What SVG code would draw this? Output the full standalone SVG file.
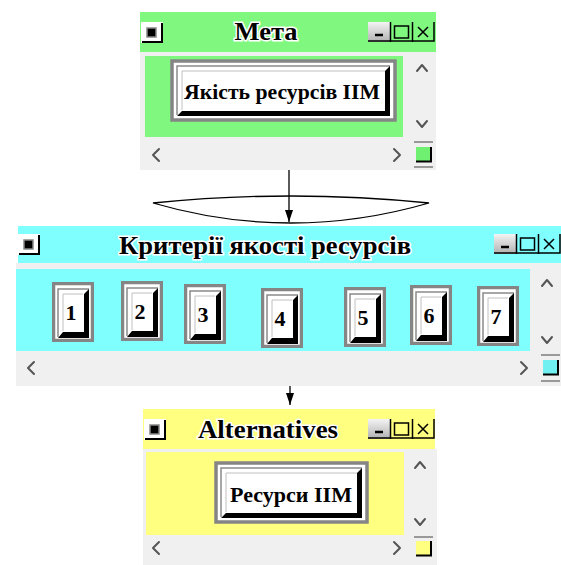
<svg xmlns="http://www.w3.org/2000/svg" width="561" height="565" viewBox="0 0 561 565">
  <style>
    .win { fill: #f0f0f0; }
    .title { font-family: "Liberation Serif", "Times New Roman", serif; font-weight: bold; font-size: 26px; fill: #000; stroke: #fff; stroke-width: 3; paint-order: stroke; text-anchor: middle; }
    .btxt { font-family: "Liberation Serif", "Times New Roman", serif; font-weight: bold; font-size: 22px; fill: #000; text-anchor: middle; }
    .chev { fill: none; stroke: #555; stroke-width: 2; stroke-linecap: round; stroke-linejoin: round; }
    .frame { fill: #fff; stroke: #858585; stroke-width: 3.5; }
    .hi { fill: none; stroke: #8a8a8a; stroke-width: 1.5; }
    .bev { fill: #000; }
    .conn { fill: none; stroke: #000; stroke-width: 1.3; }
    .ctl { stroke: #000; stroke-width: 1.5; fill: none; }
  </style>
  <defs>
    <linearGradient id="minbtn" x1="0" y1="0" x2="0" y2="1">
      <stop offset="0" stop-color="#f4f4f4"/>
      <stop offset="1" stop-color="#b0b0b0"/>
    </linearGradient>
    <marker id="ah" markerWidth="12" markerHeight="8" refX="12" refY="4" orient="auto" markerUnits="userSpaceOnUse" viewBox="0 0 12 8">
      <path d="M0,0 L12,4 L0,8 Z" fill="#000"/>
    </marker>
    <!-- raised numbered criterion button -->
    <symbol id="nb" viewBox="0 0 42 60" width="42" height="60">
      <rect x="1.5" y="1.5" width="39" height="57" class="frame"/>
      <polyline points="6,55 6,7 37,7" class="hi"/>
      <polyline points="11,49 11,12 31,12" fill="none" stroke="#c0c0c0" stroke-width="1"/>
      <polygon points="6,56 37,56 37,7 32,12 32,50 11,50" class="bev"/>
    </symbol>
    <!-- window system icon -->
    <symbol id="ico" viewBox="0 0 22 21" width="22" height="21">
      <rect x="0" y="0" width="22" height="21" fill="#fff"/>
      <rect x="6" y="6" width="9" height="9" fill="#000" stroke="#888" stroke-width="1.5"/>
      <polyline points="1,20 21,20 21,1" fill="none" stroke="#000" stroke-width="2"/>
    </symbol>
    <!-- minimise / maximise / close buttons -->
    <symbol id="ctl" viewBox="0 0 67 20" width="67" height="20">
      <rect x="0" y="0" width="22" height="20" fill="url(#minbtn)"/>
      <line x1="7" y1="13" x2="15" y2="13" stroke="#000" stroke-width="2.5"/>
      <rect x="26.5" y="4" width="14" height="12" class="ctl"/>
      <path d="M50,5 L60,15 M60,5 L50,15" class="ctl" stroke-width="2"/>
      <polyline points="0,19 66,19 66,0" class="ctl" stroke-width="2"/>
      <line x1="22.5" y1="0" x2="22.5" y2="20" class="ctl"/>
      <line x1="44.5" y1="0" x2="44.5" y2="20" class="ctl"/>
    </symbol>
  </defs>

  <!-- window: Мета -->
  <g id="meta">
    <rect x="140" y="52" width="296" height="118" class="win"/>
    <rect x="140" y="12" width="296" height="40" fill="#80f880"/>
    <rect x="145" y="56" width="258" height="81" fill="#80f880"/>
    <use href="#ico" x="141" y="22"/>
    <use href="#ctl" x="368" y="22"/>
    <text x="266" y="40" class="title" textLength="63" lengthAdjust="spacingAndGlyphs">Мета</text>
    <rect x="172" y="61" width="223" height="59" class="frame"/>
    <polyline points="177,115 177,66 390,66" class="hi"/>
    <polyline points="182,110 182,71 385,71" fill="none" stroke="#c0c0c0" stroke-width="1"/>
    <polygon points="177,116 390,116 390,66 385,71 385,111 182,111" class="bev"/>
    <text x="282" y="99" class="btxt" textLength="196" lengthAdjust="spacingAndGlyphs">Якість ресурсів ІІМ</text>
    <polyline points="417,71 422,65 427,71" class="chev"/>
    <polyline points="417,121 422,127 427,121" class="chev"/>
    <polyline points="159,149 153,155 159,161" class="chev"/>
    <polyline points="394,149 400,155 394,161" class="chev"/>
    <line x1="414" y1="142" x2="433" y2="142" stroke="#999" stroke-width="2"/>
    <rect x="416" y="147" width="15" height="15" fill="#70f070"/>
    <polyline points="416,161.5 431,161.5 431,147" fill="none" stroke="#000" stroke-width="2"/>
    <line x1="414" y1="167" x2="433" y2="167" stroke="#999" stroke-width="2"/>
  </g>

  <!-- window: Критерії якості ресурсів -->
  <g id="criteria">
    <rect x="16" y="263" width="545" height="123" class="win"/>
    <rect x="18" y="226" width="543" height="37" fill="#80ffff"/>
    <rect x="16" y="269" width="514" height="82" fill="#80ffff"/>
    <use href="#ico" x="18" y="234"/>
    <use href="#ctl" x="494" y="234"/>
    <text x="265" y="254" class="title" textLength="292" lengthAdjust="spacingAndGlyphs">Критерії якості ресурсів</text>
    <g id="c1"><use href="#nb" x="52" y="282"/><text x="71" y="320" class="btxt">1</text></g>
    <g id="c2"><use href="#nb" x="121" y="281"/><text x="140" y="319" class="btxt">2</text></g>
    <g id="c3"><use href="#nb" x="184" y="284"/><text x="203" y="322" class="btxt">3</text></g>
    <g id="c4"><use href="#nb" x="261" y="288"/><text x="280" y="326" class="btxt">4</text></g>
    <g id="c5"><use href="#nb" x="344" y="287"/><text x="363" y="325" class="btxt">5</text></g>
    <g id="c6"><use href="#nb" x="410" y="285"/><text x="429" y="323" class="btxt">6</text></g>
    <g id="c7"><use href="#nb" x="477" y="286"/><text x="496" y="324" class="btxt">7</text></g>
    <polyline points="542,286 547,280 552,286" class="chev"/>
    <polyline points="542,337 547,343 552,337" class="chev"/>
    <polyline points="34,362 28,368 34,374" class="chev"/>
    <polyline points="521,362 527,368 521,374" class="chev"/>
    <line x1="541" y1="355" x2="560" y2="355" stroke="#999" stroke-width="2"/>
    <rect x="543" y="360" width="15" height="15" fill="#70f0f0"/>
    <polyline points="543,374.5 558,374.5 558,360" fill="none" stroke="#000" stroke-width="2"/>
    <line x1="541" y1="381" x2="560" y2="381" stroke="#999" stroke-width="2"/>
  </g>

  <!-- window: Alternatives -->
  <g id="alternatives">
    <rect x="143" y="449" width="294" height="116" class="win"/>
    <rect x="143" y="409" width="292" height="40" fill="#ffff80"/>
    <rect x="146" y="452" width="258" height="83" fill="#ffff80"/>
    <use href="#ico" x="144" y="419"/>
    <use href="#ctl" x="368" y="419"/>
    <text x="268" y="438" class="title" textLength="140" lengthAdjust="spacingAndGlyphs">Alternatives</text>
    <rect x="216" y="463" width="151" height="59" class="frame"/>
    <polyline points="221,517 221,468 362,468" class="hi"/>
    <polyline points="226,512 226,473 357,473" fill="none" stroke="#c0c0c0" stroke-width="1"/>
    <polygon points="221,518 362,518 362,468 357,473 357,513 226,513" class="bev"/>
    <text x="291" y="502" class="btxt" textLength="122" lengthAdjust="spacingAndGlyphs">Ресурси ІІМ</text>
    <polyline points="415,468 420,462 425,468" class="chev"/>
    <polyline points="415,519 420,525 425,519" class="chev"/>
    <polyline points="159,542 153,548 159,554" class="chev"/>
    <polyline points="394,542 400,548 394,554" class="chev"/>
    <line x1="414" y1="537" x2="433" y2="537" stroke="#999" stroke-width="2"/>
    <rect x="416" y="541" width="15" height="15" fill="#ffff80"/>
    <polyline points="416,555.5 431,555.5 431,541" fill="none" stroke="#000" stroke-width="2"/>
  </g>

  <!-- connectors -->
  <g id="connectors">
    <path d="M153,203 Q291,189 429,203 Q291,243 153,203 Z" class="conn"/>
    <line x1="289" y1="170" x2="289" y2="222" class="conn" marker-end="url(#ah)"/>
    <line x1="290" y1="386" x2="290" y2="405" class="conn" marker-end="url(#ah)"/>
  </g>
</svg>
